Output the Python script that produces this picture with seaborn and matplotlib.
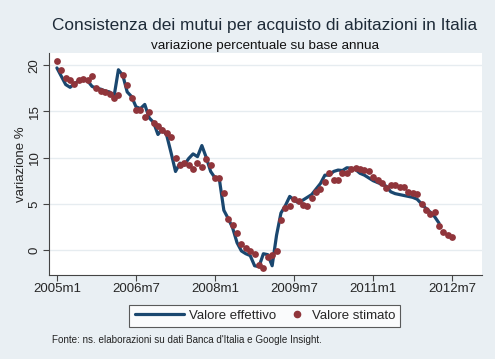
import seaborn as sns
import numpy as np
import matplotlib.pyplot as plt
import pandas as pd
from matplotlib.lines import Line2D
from matplotlib.legend_handler import HandlerLine2D

# monthly values, month 0 = 2005m1
effettivo = [19.7, 18.8, 17.9, 17.6, 18.0, 18.3, 18.4, 18.3, 17.7, 17.5,
             17.4, 17.2, 17.1, 16.6, 19.5, 18.9, 17.1, 16.6, 15.5, 15.3,
             15.75, 14.3, 13.8, 12.5, 13.1, 12.4, 10.5, 8.5, 9.4, 9.2,
             9.9, 10.4, 10.1, 11.3, 10.0, 8.5, 7.8, 7.6, 4.3, 3.4,
             2.4, 0.8, -0.1, -0.4, -0.6, -1.7, -1.8, -0.4, -0.5, -1.7,
             1.6, 4.0, 4.8, 5.8, 5.4, 5.1, 5.4, 5.7, 6.0, 6.6,
             7.2, 8.1, 8.1, 8.5, 8.65, 8.6, 8.9, 8.85, 8.7, 8.3,
             8.1, 7.8, 7.5, 7.3, 7.1, 6.9, 6.3, 6.1, 6.0, 5.9,
             5.8, 5.7, 5.5, 5.0, 4.5, 4.1, 3.6, 2.9]
stimato = [20.4, 19.5, 18.6, 18.4, 18.0, 18.4, 18.5, 18.4, 18.85, 17.5,
           17.2, 17.1, 16.9, 16.5, 16.8, 18.9, 17.8, 16.4, 15.1, 15.1,
           14.4, 14.9, 13.7, 13.4, 13.0, 12.7, 12.25, 10.0, 9.25, 9.4,
           9.25, 8.8, 9.4, 9.0, 9.9, 9.2, 7.75, 7.75, 6.2, 3.35,
           2.7, 1.8, 0.7, 0.2, -0.1, -0.4, -1.6, -1.9, -0.8, -0.5,
           -0.1, 3.2, 4.5, 4.75, 5.5, 5.3, 4.9, 4.75, 5.6, 6.3,
           6.65, 7.4, 8.35, 7.55, 7.55, 8.3, 8.3, 8.8, 8.9, 8.8,
           8.65, 8.5, 7.9, 7.55, 7.2, 6.75, 7.0, 7.0, 6.85, 6.85,
           6.3, 6.2, 6.05, 5.0, 4.3, 3.9, 4.1, 2.65, 1.9, 1.6, 1.45]
tick_pos = [0, 18, 36, 54, 72, 90]
tick_lab = ["2005m1", "2006m7", "2008m1", "2009m7", "2011m1", "2012m7"]
y_ticks = [0, 5, 10, 15, 20]

df_eff = pd.DataFrame({"mese": np.arange(len(effettivo)), "valore": effettivo})
df_sti = pd.DataFrame({"mese": np.arange(len(stimato)), "valore": stimato})

sns.set_style("white")
plt.rcParams['font.family'] = ['Liberation Sans', 'DejaVu Sans']

bg = "#E9EFF3"
navy = "#1A476F"
maroon = "#90353B"


class RightDot(HandlerLine2D):
    # put the marker near the right end of the handle box, like Stata does
    def create_artists(self, legend, orig_handle, xdescent, ydescent,
                       width, height, fontsize, trans):
        arts = super().create_artists(legend, orig_handle, xdescent, ydescent,
                                      width, height, fontsize, trans)
        for a in arts:
            a.set_xdata([-xdescent + width - 6])
        return arts


fig = plt.figure(figsize=(4.95, 3.59), dpi=100, facecolor=bg)
ax = fig.add_axes([0.099, 0.234, 0.875, 0.618])
ax.set_facecolor("white")

for y in y_ticks:
    ax.axhline(y, color="#E6ECF0", lw=1.0, zorder=0)

sns.lineplot(data=df_eff, x="mese", y="valore", ax=ax, color=navy, lw=2.3, zorder=2)
sns.scatterplot(data=df_sti, x="mese", y="valore", ax=ax, color=maroon, s=24,
                edgecolor=maroon, linewidth=0, zorder=3)

ax.set_xlim(-1.8, 96.8)
ax.set_ylim(-2.7, 21.3)
ax.set_xticks(tick_pos)
ax.set_xticklabels(tick_lab, fontsize=9.5)
ax.set_yticks(y_ticks)
ax.set_yticklabels([str(v) for v in y_ticks], fontsize=9.5, rotation=90, va="center")
ax.set_xlabel("")
ax.set_ylabel("variazione %", fontsize=9.5)
ax.yaxis.set_label_coords(-0.05, 0.5)
ax.tick_params(axis="both", direction="out", length=4, width=0.8, color="#444444",
               left=True, bottom=True, pad=2)
for s in ["top", "right"]:
    ax.spines[s].set_visible(False)
for s in ["left", "bottom"]:
    ax.spines[s].set_color("#444444")
    ax.spines[s].set_linewidth(0.8)

fig.text(0.535, 0.930, "Consistenza dei mutui per acquisto di abitazioni in Italia",
         ha="center", va="center", fontsize=12.4, color="#1E2B38")
fig.text(0.535, 0.873, "variazione percentuale su base annua",
         ha="center", va="center", fontsize=9.7, color="#111111")

h_line = Line2D([0], [0], color=navy, lw=2.3)
h_dot = Line2D([0], [0], color=maroon, marker="o", lw=0, markersize=4.5)
leg = fig.legend([h_line, h_dot], ["Valore effettivo", "Valore stimato"], loc="center",
                 bbox_to_anchor=(0.535, 0.12), ncol=2, fontsize=9.5, frameon=True,
                 fancybox=False, handlelength=3.7, columnspacing=-1.5, handletextpad=0.45,
                 borderpad=0.4, handler_map={h_dot: RightDot()})
leg.get_frame().set_edgecolor("#333333")
leg.get_frame().set_linewidth(0.8)
leg.get_frame().set_facecolor("white")

fig.text(0.105, 0.053, "Fonte: ns. elaborazioni su dati Banca d'Italia e Google Insight.",
         ha="left", va="center", fontsize=7.1, color="#222222")

fig.savefig("out.png", dpi=100, facecolor=bg)
